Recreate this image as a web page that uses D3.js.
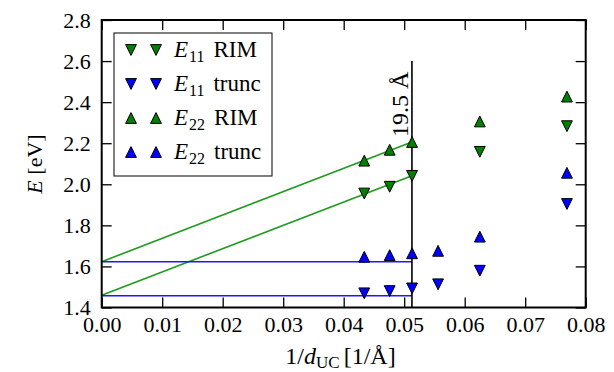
<!DOCTYPE html>
<html>
<head>
<meta charset="utf-8">
<script src="https://d3js.org/d3.v7.min.js"></script>
<style>
    body { margin: 0; background: #fff; }
    svg { display: block; font-family: "Liberation Serif", "DejaVu Serif", serif; }
</style>
</head>
<body>
<div id="chart"></div>
<script>
// values
var rimX = [0.0434, 0.0476, 0.0513, 0.0625, 0.0769];
var e11Rim = [1.955, 1.988, 2.041, 2.158, 2.283];
var e22Rim = [2.115, 2.168, 2.206, 2.306, 2.427];

var truncX = [0.0434, 0.0476, 0.0513, 0.0556, 0.0625, 0.0769];
var e11Trunc = [1.469, 1.480, 1.493, 1.513, 1.579, 1.904];
var e22Trunc = [1.647, 1.655, 1.664, 1.676, 1.745, 2.056];

// fit lines, from 1/d = 0 to the 19.5 A point
var fitX = [0, 0.05128];
var e11RimFit = [1.460, 2.041];
var e22RimFit = [1.623, 2.206];
var e11TruncFit = [1.457, 1.457];
var e22TruncFit = [1.623, 1.623];

var cutX = 0.05128;
var cutY = [1.4, 2.6];

var xTicks = [0, 0.01, 0.02, 0.03, 0.04, 0.05, 0.06, 0.07, 0.08];
var yTicks = [1.4, 1.6, 1.8, 2.0, 2.2, 2.4, 2.6, 2.8];

function chart() {
    var width = 614;
    var height = 372;
    var left = 101.7, right = 585.7, top = 20, bottom = 307.5;

    var green = "#007f00";
    var blue = "#0000ff";

    var canvas = d3.select("#chart")
                    .append("svg")
                    .attr("width", width)
                    .attr("height", height);

    canvas.append("rect")
        .attr("width", width)
        .attr("height", height)
        .attr("fill", "#fff");

    var xScale = d3.scaleLinear()
                    .domain([0, 0.08])
                    .range([left, right]);

    var yScale = d3.scaleLinear()
                    .domain([1.4, 2.8])
                    .range([bottom, top]);

    // Axes with inward ticks on all four sides
    var xAxis = d3.axisBottom(xScale)
                .tickValues(xTicks)
                .tickFormat(d3.format(".2f"))
                .tickSizeInner(-10)
                .tickSizeOuter(0)
                .tickPadding(9);

    var yAxis = d3.axisLeft(yScale)
                .tickValues(yTicks)
                .tickFormat(d3.format(".1f"))
                .tickSizeInner(-10)
                .tickSizeOuter(0)
                .tickPadding(11);

    var gx = canvas.append("g")
        .attr("transform", "translate(0, " + bottom + ")")
        .call(xAxis);

    var gy = canvas.append("g")
        .attr("transform", "translate(" + left + ", 0)")
        .call(yAxis);

    var gTop = canvas.append("g")
        .attr("transform", "translate(0, " + top + ")")
        .call(d3.axisTop(xScale).tickValues(xTicks).tickFormat("").tickSizeInner(-10).tickSizeOuter(0));

    var gRight = canvas.append("g")
        .attr("transform", "translate(" + right + ", 0)")
        .call(d3.axisRight(yScale).tickValues(yTicks).tickFormat("").tickSizeInner(-10).tickSizeOuter(0));

    [gx, gy, gTop, gRight].forEach(function(g) {
        g.attr("font-family", null).attr("font-size", null);
        g.select(".domain").remove();
        g.selectAll(".tick line").attr("stroke", "#000").attr("stroke-width", 1.3);
        g.selectAll(".tick text")
            .attr("fill", "#000")
            .style("font-size", "22px");
    });

    // Fit lines
    var line = d3.line()
                .x(function(d) { return xScale(d[0]); })
                .y(function(d) { return yScale(d[1]); });

    var fits = [
        { y: e22RimFit, c: "#1f9a1f" },
        { y: e11RimFit, c: "#1f9a1f" },
        { y: e22TruncFit, c: "#1a1aff" },
        { y: e11TruncFit, c: "#1a1aff" }
    ];

    fits.forEach(function(f) {
        canvas.append("path")
            .datum(fitX.map(function(x, i) { return [x, f.y[i]]; }))
            .attr("fill", "none")
            .attr("stroke", f.c)
            .attr("stroke-width", 1.6)
            .attr("d", line);
    });

    // Vertical line at 19.5 A
    canvas.append("line")
        .attr("x1", xScale(cutX))
        .attr("x2", xScale(cutX))
        .attr("y1", yScale(cutY[0]))
        .attr("y2", yScale(cutY[1]))
        .attr("stroke", "#000")
        .attr("stroke-width", 1.6);

    canvas.append("text")
        .attr("transform", "translate(" + (xScale(cutX) - 4) + "," + yScale(2.23) + ") rotate(-90)")
        .attr("text-anchor", "start")
        .style("font-size", "24px")
        .text("19.5 Å");

    // Triangle markers
    var s = 5.4;
    function tri(up) {
        return up ? "M0," + (-s) + "L" + s + "," + s + "L" + (-s) + "," + s + "Z"
                  : "M0," + s + "L" + s + "," + (-s) + "L" + (-s) + "," + (-s) + "Z";
    }

    var series = [
        { x: truncX, y: e11Trunc, c: blue, up: false },
        { x: truncX, y: e22Trunc, c: blue, up: true },
        { x: rimX, y: e11Rim, c: green, up: false },
        { x: rimX, y: e22Rim, c: green, up: true }
    ];

    series.forEach(function(ser) {
        canvas.append("g")
            .selectAll("path")
            .data(ser.x.map(function(x, i) { return [x, ser.y[i]]; }))
            .enter()
            .append("path")
            .attr("transform", function(d) {
                return "translate(" + xScale(d[0]) + "," + yScale(d[1]) + ")";
            })
            .attr("d", tri(ser.up))
            .attr("fill", ser.c)
            .attr("stroke", "#000")
            .attr("stroke-width", 1);
    });

    // Frame
    canvas.append("rect")
        .attr("x", left)
        .attr("y", top)
        .attr("width", right - left)
        .attr("height", bottom - top)
        .attr("fill", "none")
        .attr("stroke", "#000")
        .attr("stroke-width", 2);

    // Legend
    var legendItems = [
        { sub: "11", name: "RIM", c: green, up: false },
        { sub: "11", name: "trunc", c: blue, up: false },
        { sub: "22", name: "RIM", c: green, up: true },
        { sub: "22", name: "trunc", c: blue, up: true }
    ];

    var legend = canvas.append("g");

    legend.append("rect")
        .attr("x", 114)
        .attr("y", 33)
        .attr("width", 158)
        .attr("height", 143)
        .attr("fill", "#fff")
        .attr("stroke", "#000")
        .attr("stroke-width", 1);

    legendItems.forEach(function(d, i) {
        var cy = 50 + i * 34;
        [131, 156].forEach(function(mx) {
            legend.append("path")
                .attr("transform", "translate(" + mx + "," + cy + ")")
                .attr("d", tri(d.up))
                .attr("fill", d.c)
                .attr("stroke", "#000")
                .attr("stroke-width", 1);
        });
        var t = legend.append("text")
            .attr("x", 174)
            .attr("y", cy + 7)
            .style("font-size", "23px");
        t.append("tspan").style("font-style", "italic").text("E");
        t.append("tspan").attr("dx", 1).attr("dy", 5).style("font-size", "16px").text(d.sub);
        t.append("tspan").attr("dx", 9).attr("dy", -5).text(d.name);
    });

    // Y Axis Label
    var yl = canvas.append("text")
        .attr("transform", "translate(42, 164) rotate(-90)")
        .attr("text-anchor", "middle")
        .style("font-size", "22px");
    yl.append("tspan").style("font-style", "italic").text("E");
    yl.append("tspan").text(" [eV]");

    // X Axis Label
    var xl = canvas.append("text")
        .attr("x", 340.5)
        .attr("y", 364)
        .attr("text-anchor", "middle")
        .style("font-size", "24px");
    xl.append("tspan").text("1/");
    xl.append("tspan").style("font-style", "italic").text("d");
    xl.append("tspan").attr("dy", 4).style("font-size", "17px").text("UC");
    xl.append("tspan").attr("dx", 4).attr("dy", -4).text("[1/Å]");
}

window.onload = chart;
</script>
</body>
</html>
